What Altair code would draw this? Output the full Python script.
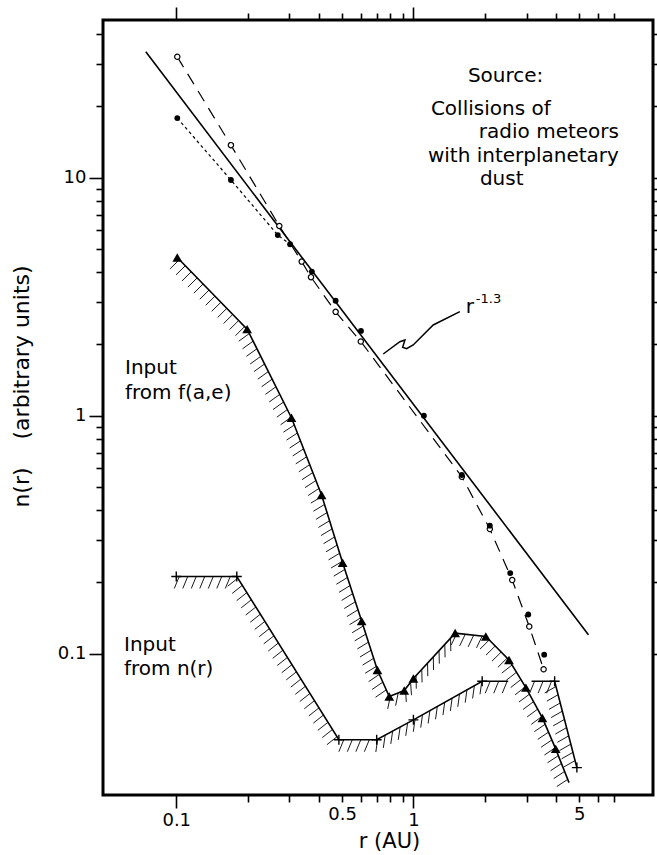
import altair as alt
import numpy as np
import pandas as pd

# ---------------- data (r in AU, n(r) in arbitrary units) -------------
powerlaw_r = [0.0744, 5.47]          # fitted r^-1.3 line, end points
powerlaw_n = [33.8, 0.120]

open_r = [0.101, 0.170, 0.272, 0.338, 0.370, 0.470, 0.600, 1.60, 2.10, 2.61, 3.08, 3.54]
open_n = [32.2, 13.7, 6.27, 4.44, 3.82, 2.73, 2.05, 0.554, 0.334, 0.204, 0.130, 0.086]

filled_r = [0.101, 0.170, 0.268, 0.302, 0.373, 0.470, 0.601, 1.107, 1.60, 2.10, 2.56, 3.05, 3.56]
filled_n = [17.8, 9.78, 5.74, 5.25, 4.03, 3.04, 2.27, 1.00, 0.563, 0.345, 0.218, 0.146, 0.099]
filled_line_max_r = 0.31            # dotted connector only on the inner points

tri_r = [0.101, 0.199, 0.306, 0.410, 0.503, 0.605, 0.705, 0.791, 0.915, 1.00, 1.50, 2.02, 2.53, 2.98, 3.50, 3.98]
tri_n = [4.62, 2.31, 0.98, 0.464, 0.241, 0.137, 0.0854, 0.066, 0.070, 0.0786, 0.122, 0.118, 0.094, 0.072, 0.0537, 0.0398]
tri_tip_r = 4.53
tri_tip_n = 0.0287

cross_r = [0.100, 0.180, 0.485, 0.700, 1.00, 1.95, 3.94, 4.89]
cross_n = [0.211, 0.211, 0.0435, 0.0435, 0.0527, 0.0766, 0.0766, 0.0332]
cross_gap_r = [2.51, 3.15]          # the step line is interrupted where the other curve crosses

squiggle_r = [0.746, 0.877, 0.921, 0.901, 0.936, 0.998, 1.212, 1.570]
squiggle_n = [1.816, 2.046, 2.08, 1.938, 1.912, 1.982, 2.405, 2.735]

text_lines = ["Source:", "Collisions of", "radio meteors", "with interplanetary", "dust",
              "Input", "from f(a,e)", "Input", "from n(r)", "r"]
text_r = [1.697, 1.185, 1.888, 1.151, 1.907, 0.0608, 0.0608, 0.0602, 0.0602, 1.664]
text_n = [25.2, 18.34, 14.68, 11.60, 9.35, 1.49, 1.18, 0.1030, 0.0815, 2.70]
sup_text = ["-1.3"]
sup_r = [1.834]
sup_n = [2.975]

x_tick_values = [0.1, 0.2, 0.3, 0.4, 0.5, 0.6, 0.7, 0.8, 0.9, 1, 2, 3, 4, 5, 6, 7]
y_tick_values = [0.1, 0.2, 0.3, 0.4, 0.5, 0.6, 0.7, 0.8, 0.9, 1, 2, 3, 4, 5, 6, 7, 8, 9, 10, 20, 30, 40]

X_DOMAIN = [0.0491, 10.24]
Y_DOMAIN = [0.02547, 45.98]
W, H = 550, 775
FONT = "DejaVu Sans"

# ---------------- frames ----------------
powerlaw_df = pd.DataFrame({"r": powerlaw_r, "n": powerlaw_n})
open_df = pd.DataFrame({"r": open_r, "n": open_n})
filled_df = pd.DataFrame({"r": filled_r, "n": filled_n})
tri_df = pd.DataFrame({"r": tri_r, "n": tri_n})
tri_path = pd.DataFrame({"r": tri_r + [tri_tip_r], "n": tri_n + [tri_tip_n]})
cross_df = pd.DataFrame({"r": cross_r, "n": cross_n})

step_n = cross_n[cross_r.index(1.95)]
partA = [(r, n) for r, n in zip(cross_r, cross_n) if r <= 1.95] + [(cross_gap_r[0], step_n)]
partB = [(cross_gap_r[1], step_n)] + [(r, n) for r, n in zip(cross_r, cross_n) if r >= 3.94]
cross_path = pd.DataFrame(
    [{"r": r, "n": n, "seg": "a"} for r, n in partA] + [{"r": r, "n": n, "seg": "b"} for r, n in partB]
)

squig_df = pd.DataFrame({"r": squiggle_r, "n": squiggle_n, "i": list(range(len(squiggle_r)))})
text_df = pd.DataFrame({"t": text_lines, "r": text_r, "n": text_n})
sup_df = pd.DataFrame({"t": sup_text, "r": sup_r, "n": sup_n})

# hatching (decoration) along the lower side of the two input curves
PXX = W / (np.log10(X_DOMAIN[1]) - np.log10(X_DOMAIN[0]))
PXY = H / (np.log10(Y_DOMAIN[1]) - np.log10(Y_DOMAIN[0]))


def hatch(points, step=8.5, length=13.0):
    X = np.array([np.log10(p[0]) * PXX for p in points])
    Y = np.array([np.log10(p[1]) * PXY for p in points])
    rows = []
    carry = 3.0
    for i in range(len(X) - 1):
        dx, dy = X[i + 1] - X[i], Y[i + 1] - Y[i]
        seg = float(np.hypot(dx, dy))
        ux, uy = dx / seg, dy / seg
        nx, ny = uy, -ux                      # normal on the lower side
        sx, sy = nx - 0.707, ny - 0.707       # lean towards lower-left
        s = np.hypot(sx, sy)
        sx, sy = sx / s * length, sy / s * length
        t = carry
        while t < seg:
            x0, y0 = X[i] + ux * t, Y[i] + uy * t
            rows.append({"r1": 10 ** (x0 / PXX), "n1": 10 ** (y0 / PXY),
                         "r2": 10 ** ((x0 + sx) / PXX), "n2": 10 ** ((y0 + sy) / PXY)})
            t += step
        carry = t - seg
    return rows


hatch_rows = hatch(list(zip(tri_path["r"], tri_path["n"]))) + hatch(partA) + hatch(partB)
hatch_df = pd.DataFrame(hatch_rows)

# ---------------- scales & axes ----------------
xs = alt.Scale(type="log", domain=X_DOMAIN, nice=False)
ys = alt.Scale(type="log", domain=Y_DOMAIN, nice=False)

x_label_expr = ("datum.value == 0.1 ? '0.1' : datum.value == 0.5 ? '0.5' : "
                "datum.value == 1 ? '1' : datum.value == 5 ? '5' : ''")
y_label_expr = ("datum.value == 0.1 ? '0.1' : datum.value == 1 ? '1' : "
                "datum.value == 10 ? '10' : ''")
x_major = {"condition": {"test": "datum.value == 0.1 || datum.value == 1", "value": 13}, "value": 7}
y_major = {"condition": {"test": "datum.value == 0.1 || datum.value == 1 || datum.value == 10",
                         "value": 14}, "value": 7}

common = dict(domain=False, grid=False, tickColor="black", tickWidth=1.6, labelColor="black",
              labelFont=FONT, labelFontSize=18, labelOverlap=False, labelFlush=False,
              titleFont=FONT, titleColor="black", titleFontWeight="normal")

bottom_axis = alt.Axis(orient="bottom", values=x_tick_values, labelExpr=x_label_expr,
                       tickSize=x_major, labelPadding=3, title="r (AU)", titleFontSize=21,
                       titleX=286, titleY=35, titleBaseline="top", titleAlign="center", **common)
left_axis = alt.Axis(orient="left", values=y_tick_values, labelExpr=y_label_expr,
                     tickSize=y_major, labelPadding=3,
                     title="n(r)\u00a0\u00a0\u00a0\u00a0(arbitrary units)", titleFontSize=22,
                     titleX=-82, titleY=366, titleBaseline="middle", titleAlign="center", **common)
top_axis = alt.Axis(orient="top", values=x_tick_values, labels=False, title=None,
                    tickSize=x_major, domain=False, grid=False, tickColor="black", tickWidth=1.6)
right_axis = alt.Axis(orient="right", values=y_tick_values, labels=False, title=None,
                      tickSize=y_major, domain=False, grid=False, tickColor="black", tickWidth=1.6)


def X(field, axis=None):
    return alt.X(field, type="quantitative", scale=xs, axis=axis)


def Y(field, axis=None):
    return alt.Y(field, type="quantitative", scale=ys, axis=axis)


solid = alt.Chart(powerlaw_df).mark_line(color="black", strokeWidth=1.6).encode(
    x=X("r", bottom_axis), y=Y("n", left_axis))
frame = alt.Chart(powerlaw_df).mark_point(opacity=0).encode(
    x=X("r", top_axis), y=Y("n", right_axis))

open_line = alt.Chart(open_df).mark_line(color="black", strokeWidth=1.2, strokeDash=[12, 8]).encode(
    x=X("r"), y=Y("n"))
filled_line = alt.Chart(filled_df).transform_filter(
    alt.datum.r <= filled_line_max_r).mark_line(color="black", strokeWidth=1.2, strokeDash=[3, 3]).encode(
    x=X("r"), y=Y("n"))

hatch_layer = alt.Chart(hatch_df).mark_rule(color="black", strokeWidth=0.9).encode(
    x=X("r1"), y=Y("n1"), x2="r2", y2="n2")

tri_line = alt.Chart(tri_path).mark_line(color="black", strokeWidth=1.6).encode(x=X("r"), y=Y("n"))
tri_pts = alt.Chart(tri_df).mark_point(shape="triangle-up", filled=True, color="black", size=95,
                                       opacity=1).encode(x=X("r"), y=Y("n"))

cross_line = alt.Chart(cross_path).mark_line(color="black", strokeWidth=1.6).encode(
    x=X("r"), y=Y("n"), detail="seg:N")
cross_pts = alt.Chart(cross_df).mark_point(shape="M -1 0 L 1 0 M 0 -1 L 0 1", filled=False,
                                           stroke="black", strokeWidth=1.4, size=100,
                                           opacity=1).encode(x=X("r"), y=Y("n"))

open_pts = alt.Chart(open_df).mark_point(shape="circle", filled=True, fill="white", stroke="black",
                                         strokeWidth=1.2, size=28, opacity=1).encode(
    x=X("r"), y=Y("n"))
filled_pts = alt.Chart(filled_df).mark_point(shape="circle", filled=True, color="black", size=34,
                                             opacity=1).encode(x=X("r"), y=Y("n"))

squiggle = alt.Chart(squig_df).mark_line(color="black", strokeWidth=1.5).encode(
    x=X("r"), y=Y("n"), order="i:Q")

texts = alt.Chart(text_df).mark_text(align="left", baseline="alphabetic", font=FONT, fontSize=20,
                                     color="black").encode(x=X("r"), y=Y("n"), text="t:N")
sup = alt.Chart(sup_df).mark_text(align="left", baseline="alphabetic", font=FONT, fontSize=13,
                                  color="black").encode(x=X("r"), y=Y("n"), text="t:N")

chart = alt.layer(
    solid, frame, hatch_layer, open_line, filled_line, tri_line, cross_line, squiggle,
    open_pts, filled_pts, tri_pts, cross_pts, texts, sup
).resolve_axis(x="independent", y="independent").properties(
    width=W, height=H,
    padding={"left": 103, "top": 20, "right": 4, "bottom": 60},
    autosize=alt.AutoSizeParams(type="none"),
    background="white",
).configure_view(stroke="black", strokeWidth=3)

chart.save("out.html", embed_options={"renderer": "svg", "actions": False})
